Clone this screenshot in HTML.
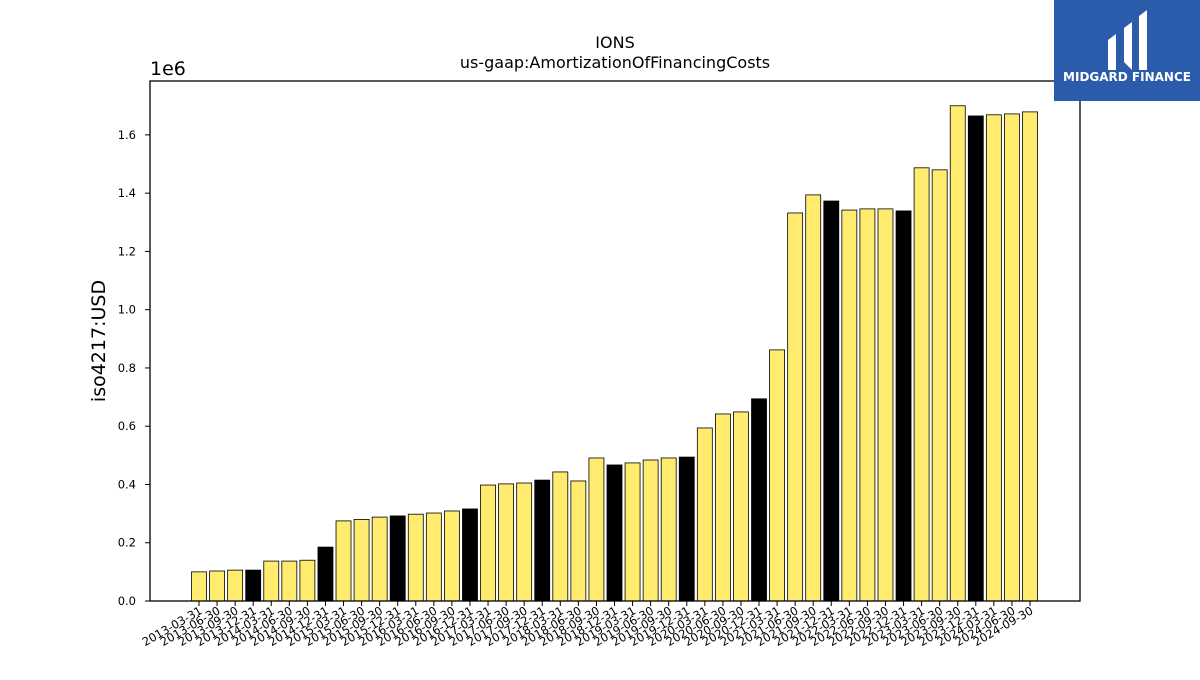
<!DOCTYPE html>
<html><head><meta charset="utf-8"><style>
body{margin:0;background:#fff;}
svg text{font-family:"DejaVu Sans","Liberation Sans",sans-serif;}
</style></head><body>
<svg id="c" width="1200" height="675" viewBox="0 0 1200 675">
<rect width="1200" height="675" fill="#fff"/>
<text x="615" y="48" text-anchor="middle" font-size="16">IONS</text>
<text x="615" y="68" text-anchor="middle" font-size="16">us-gaap:AmortizationOfFinancingCosts</text>
<text x="150" y="75" font-size="19">1e6</text>
<text transform="translate(105,341) rotate(-90)" text-anchor="middle" font-size="19">iso4217:USD</text>
<g id="bars"></g>
<g id="yt"></g>
<g id="xt"></g>
<rect x="150" y="81" width="930" height="520" fill="none" stroke="#000" stroke-width="1.3"/>
<g>
<rect x="1054" y="0" width="146" height="101" fill="#2b5cac"/>
<path d="M1108 40 L1116 34 L1116 70 L1108 70 Z M1124 28 L1132 22 L1132 70 L1124 62 Z M1139 16 L1147 10 L1147 70 L1139 70 Z" fill="#fff"/>
<text x="1127" y="81" text-anchor="middle" font-size="12" font-weight="bold" fill="#fff">MIDGARD FINANCE</text>
</g>
</svg>
<script>
const categories=["2013-03-31","2013-06-30","2013-09-30","2013-12-31","2014-03-31","2014-06-30","2014-09-30","2014-12-31","2015-03-31","2015-06-30","2015-09-30","2015-12-31","2016-03-31","2016-06-30","2016-09-30","2016-12-31","2017-03-31","2017-06-30","2017-09-30","2017-12-31","2018-03-31","2018-06-30","2018-09-30","2018-12-31","2019-03-31","2019-06-30","2019-09-30","2019-12-31","2020-03-31","2020-06-30","2020-09-30","2020-12-31","2021-03-31","2021-06-30","2021-09-30","2021-12-31","2022-03-31","2022-06-30","2022-09-30","2022-12-31","2023-03-31","2023-06-30","2023-09-30","2023-12-31","2024-03-31","2024-06-30","2024-09-30"];
const values=[100000,103000,106000,106000,137000,137000,140000,185000,275000,280000,288000,292000,298000,302000,309000,316000,398000,402000,405000,415000,443000,412000,491000,467000,474000,484000,491000,494000,594000,642000,649000,694000,862000,1332000,1394000,1373000,1342000,1346000,1346000,1339000,1487000,1480000,1700000,1665000,1669000,1672000,1679000];
const yTicks=[0,200000,400000,600000,800000,1000000,1200000,1400000,1600000];
const yTickLabels=["0.0","0.2","0.4","0.6","0.8","1.0","1.2","1.4","1.6"];
const NS="http://www.w3.org/2000/svg";
const y0=601,yTop=81,yMax=1785000;
const y=v=>y0-(v/yMax)*(y0-yTop);
const x0=199,x1=1030;
const x=i=>x0+i*(x1-x0)/(categories.length-1);
const bw=15;
function mk(t,a){const e=document.createElementNS(NS,t);for(const k in a)e.setAttribute(k,a[k]);return e;}
const bars=document.getElementById('bars'),xt=document.getElementById('xt'),yt=document.getElementById('yt');
categories.forEach((c,i)=>{
  const v=values[i];
  const r=mk('rect',{x:x(i)-bw/2,y:y(v),width:bw,height:y0-y(v),fill:c.endsWith('12-31')?'#000':'#ffec6e',stroke:'#000','stroke-width':0.8});
  
  
  bars.appendChild(r);
  const t=mk('line',{x1:x(i),x2:x(i),y1:y0,y2:y0+5,stroke:'#000'});
  
  
  xt.appendChild(t);
  const l=mk('text',{transform:`translate(${x(i)+4},${y0+12}) rotate(-30)`,'text-anchor':'end','font-size':11.5});
  
  
  l.textContent=c;xt.appendChild(l);
});
yTicks.forEach((v,i)=>{
  const t=mk('line',{x1:145,x2:150,y1:y(v),y2:y(v),stroke:'#000'});
  
  
  yt.appendChild(t);
  const l=mk('text',{x:136,y:y(v)+4,'text-anchor':'end','font-size':11.5});
  
  
  l.textContent=yTickLabels[i];yt.appendChild(l);
});
</script>
</body></html>
